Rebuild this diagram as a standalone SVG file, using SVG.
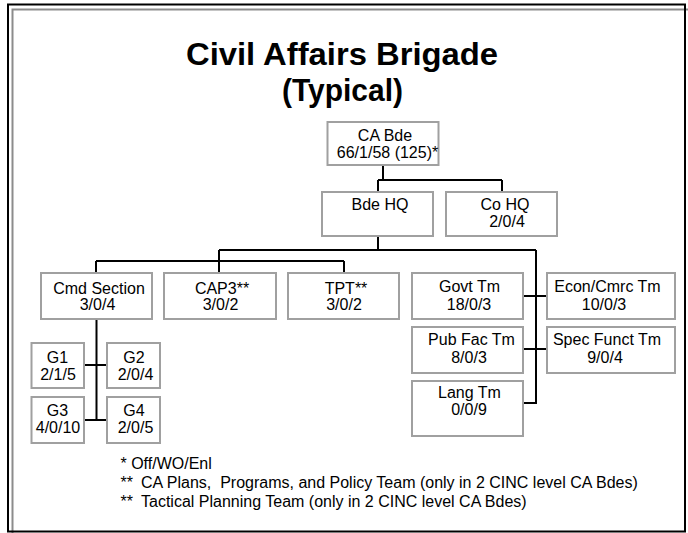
<svg xmlns="http://www.w3.org/2000/svg" width="688" height="533" viewBox="0 0 688 533">
  <style>
    .box { fill: #ffffff; stroke: #a0a0a0; stroke-width: 2; }
    .lbl { font-family: "Liberation Sans", Arial, sans-serif; font-size: 16px; fill: #000; text-anchor: middle; }
    .note { font-family: "Liberation Sans", Arial, sans-serif; font-size: 16px; fill: #000; }
    .title { font-family: "Liberation Sans", Arial, sans-serif; font-size: 32px; font-weight: bold; fill: #000; text-anchor: middle; }
    .wire { fill: none; stroke: #000; stroke-width: 2; }
  </style>
  <rect width="688" height="533" fill="#ffffff"/>

  <!-- page frame: grey inner rule and black outer rule -->
  <rect x="12.5" y="9.5" width="690" height="540" fill="none" stroke="#8c8c8c" stroke-width="2"/>
  <rect x="8" y="4.5" width="677" height="527" fill="none" stroke="#000" stroke-width="2"/>

  <!-- heading -->
  <text class="title" x="342" y="65" textLength="312" lengthAdjust="spacingAndGlyphs">Civil Affairs Brigade</text>
  <text class="title" x="342.5" y="101" textLength="121" lengthAdjust="spacingAndGlyphs">(Typical)</text>

  <!-- connectors -->
  <g id="connectors" class="wire">
    <path d="M383 165 V180 M378 180 H502 M378 180 V192 M502 180 V192"/>
    <path d="M378 236 V250 M219 250 H536 M219 250 V273"/>
    <path d="M96 261 H344 M96 261 V273 M344 261 V273"/>
    <path d="M536 250 V404 M523 296 H547 M523 349 H547 M523 403 H536"/>
    <path d="M96.5 319 V421 M84 365 H107 M84 420 H107"/>
  </g>

  <g id="ca-bde">
    <rect class="box" x="327.5" y="122" width="111" height="43"/>
    <text class="lbl" x="385" y="141">CA Bde</text>
    <text class="lbl" x="387.5" y="158">66/1/58 (125)*</text>
  </g>
  <g id="bde-hq">
    <rect class="box" x="322" y="192" width="111" height="44"/>
    <text class="lbl" x="380" y="210">Bde HQ</text>
  </g>
  <g id="co-hq">
    <rect class="box" x="446" y="192" width="111" height="44"/>
    <text class="lbl" x="505" y="210">Co HQ</text>
    <text class="lbl" x="507" y="227">2/0/4</text>
  </g>

  <g id="cmd-section">
    <rect class="box" x="41" y="273" width="111" height="46"/>
    <text class="lbl" x="99" y="293.5">Cmd Section</text>
    <text class="lbl" x="97.5" y="310">3/0/4</text>
  </g>
  <g id="cap3">
    <rect class="box" x="164" y="273" width="112" height="46"/>
    <text class="lbl" x="222" y="293.5">CAP3**</text>
    <text class="lbl" x="220.5" y="310">3/0/2</text>
  </g>
  <g id="tpt">
    <rect class="box" x="288" y="273" width="111" height="46"/>
    <text class="lbl" x="346" y="293.5">TPT**</text>
    <text class="lbl" x="344" y="310">3/0/2</text>
  </g>

  <g id="govt-tm">
    <rect class="box" x="412" y="273" width="111" height="46"/>
    <text class="lbl" x="469.5" y="292">Govt Tm</text>
    <text class="lbl" x="469" y="310">18/0/3</text>
  </g>
  <g id="econ-cmrc-tm">
    <rect class="box" x="547" y="273" width="128" height="46"/>
    <text class="lbl" x="607.5" y="292">Econ/Cmrc Tm</text>
    <text class="lbl" x="604" y="310">10/0/3</text>
  </g>
  <g id="pub-fac-tm">
    <rect class="box" x="412" y="327" width="111" height="46"/>
    <text class="lbl" x="471.5" y="345">Pub Fac Tm</text>
    <text class="lbl" x="469" y="363">8/0/3</text>
  </g>
  <g id="spec-funct-tm">
    <rect class="box" x="547" y="327" width="128" height="46"/>
    <text class="lbl" x="607" y="345">Spec Funct Tm</text>
    <text class="lbl" x="605" y="363">9/0/4</text>
  </g>
  <g id="lang-tm">
    <rect class="box" x="412" y="381" width="111" height="55"/>
    <text class="lbl" x="469.5" y="397.5">Lang Tm</text>
    <text class="lbl" x="469" y="415">0/0/9</text>
  </g>

  <g id="g1">
    <rect class="box" x="31.5" y="343" width="52.5" height="45"/>
    <text class="lbl" x="57.5" y="362.5">G1</text>
    <text class="lbl" x="58" y="379.5">2/1/5</text>
  </g>
  <g id="g2">
    <rect class="box" x="107" y="343" width="53" height="45"/>
    <text class="lbl" x="134" y="362.5">G2</text>
    <text class="lbl" x="135.5" y="379.5">2/0/4</text>
  </g>
  <g id="g3">
    <rect class="box" x="31.5" y="397" width="52.5" height="46"/>
    <text class="lbl" x="57.5" y="416">G3</text>
    <text class="lbl" x="58" y="433">4/0/10</text>
  </g>
  <g id="g4">
    <rect class="box" x="107" y="397" width="53" height="46"/>
    <text class="lbl" x="134" y="416">G4</text>
    <text class="lbl" x="135.5" y="433">2/0/5</text>
  </g>

  <!-- footnotes -->
  <g id="notes">
    <text class="note" x="120.5" y="469">* Off/WO/Enl</text>
    <text class="note" x="120.5" y="488">**</text>
    <text class="note" x="141" y="488" xml:space="preserve">CA Plans,  Programs, and Policy Team (only in 2 CINC level CA Bdes)</text>
    <text class="note" x="120.5" y="507">**</text>
    <text class="note" x="141" y="507">Tactical Planning Team (only in 2 CINC level CA Bdes)</text>
  </g>
</svg>
